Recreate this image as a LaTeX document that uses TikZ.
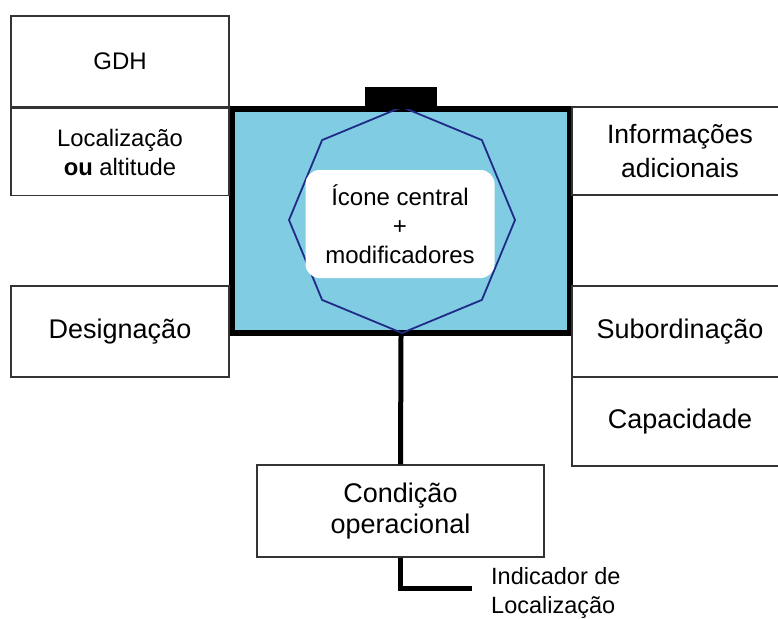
\documentclass[tikz,border=0pt]{standalone}
\usepackage{fontspec}
\setmainfont{Liberation Sans}
\usetikzlibrary{shapes.geometric}
\definecolor{panelblue}{RGB}{127,204,227}
\definecolor{octblue}{RGB}{32,42,135}
\newcommand{\fsz}[2]{\fontsize{#1}{#2}\selectfont}

\begin{document}
\begin{tikzpicture}[
    x=1pt, y=-1pt,
    field_box/.style={rectangle, draw=black!80, line width=1.3pt, fill=white, align=center, inner sep=0pt},
    main_box/.style={rectangle, draw=black, line width=6pt, fill=panelblue, inner sep=0pt},
    octagon/.style={regular polygon, regular polygon sides=8, shape border rotate=22.5, draw=octblue, line width=1.8pt, minimum size=226pt, inner sep=0pt},
    icon_box/.style={rectangle, rounded corners=14pt, fill=white, align=center, inner sep=0pt},
    stem/.style={draw, line width=5pt}
]
\useasboundingbox (0,0) rectangle (778,619);

% symbol frame
\node[main_box, minimum width=338pt, minimum height=224pt] (main) at (401,221) {};
\node[octagon] (oct) at (402,220) {};
\node[icon_box, minimum width=189pt, minimum height=108pt, font=\fsz{24}{29}] (icone) at (400,224) {Ícone central\\+\\modificadores};
\node[rectangle, fill=black, minimum width=72pt, minimum height=22pt, inner sep=0pt] (tab) at (401,98) {};

% left fields
\node[field_box, minimum width=218pt, minimum height=91pt, font=\fsz{24}{29}] (gdh) at (120,61.5) {GDH};
\node[field_box, minimum width=218pt, minimum height=87pt, font=\fsz{23.8}{29}] (loc) at (120,152) {Localização\\\textbf{ou} altitude};
\node[field_box, minimum width=218pt, minimum height=91pt, font=\fsz{27}{32}] (desig) at (120,331.5) {Designação};

% right fields (open on the right)
\node[field_box, minimum width=216pt, minimum height=88pt, font=\fsz{26.5}{34}] (info) at (680,151) {Informações\\adicionais};
\node[field_box, minimum width=216pt, minimum height=91pt, font=\fsz{27}{32}] (subord) at (680,331.5) {Subordinação};
\node[field_box, minimum width=216pt, minimum height=89pt, font=\fsz{27}{32}] (capac) at (680,421.5) {Capacidade};

% bottom
\node[field_box, minimum width=287pt, minimum height=92pt, font=\fsz{27}{31}] (cond) at (400.5,511) {Condição\\operacional};
\node[anchor=west, align=left, inner sep=0pt, font=\fsz{23.5}{29}] (indic) at (491,593) {Indicador de\\Localização};
\coordinate (indtip) at (472,588);

\draw[stem] (main.south) -- (cond.north);
\draw[stem] (cond.south) |- (indtip);
\end{tikzpicture}
\end{document}
